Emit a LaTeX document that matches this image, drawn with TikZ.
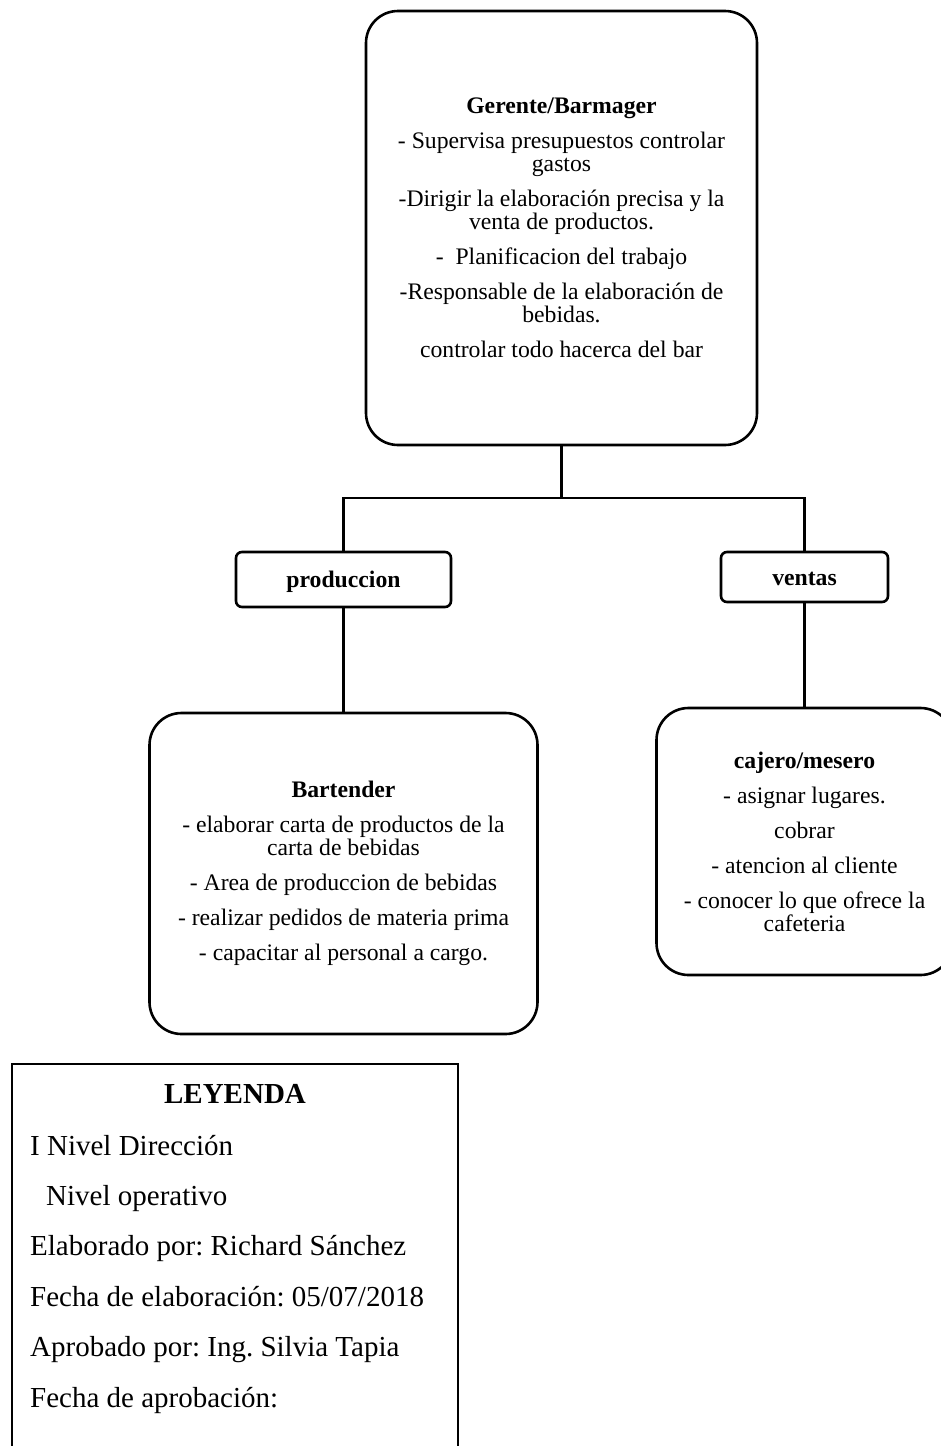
\documentclass[tikz,border=0pt]{standalone}
\usepackage{fontspec}
\setmainfont{Liberation Serif}
\frenchspacing

\begin{document}
\begin{tikzpicture}[x=1pt,y=-1pt,
    cargo/.style={draw, line width=2.6pt, rounded corners=32pt, align=center,
      inner sep=0pt, font=\fontsize{23.7}{23}\selectfont},
    area/.style={draw, line width=2.6pt, rounded corners=6pt, inner sep=0pt,
      text height=20pt, text depth=5pt, font=\fontsize{23.7}{23}\selectfont\bfseries},
    leyenda/.style={anchor=base west, inner sep=0pt, font=\fontsize{29}{29}\selectfont}]
  \clip (0,0) rectangle (941,1446);

  % boxes
  \node[cargo, minimum width=391pt, minimum height=434pt] (gerente) at (561.5,228)
    {\textbf{Gerente/Barmager}\\[12pt]
     - Supervisa presupuestos controlar\\ gastos\\[12pt]
     -Dirigir la elaboración precisa y la\\ venta de productos.\\[12pt]
     -\ \ Planificacion del trabajo\\[12pt]
     -Responsable de la elaboración de\\ bebidas.\\[12pt]
     controlar todo hacerca del bar};
  \node[area, minimum width=215pt, minimum height=55pt] (prod) at (343.5,579.5) {produccion};
  \node[area, minimum width=167pt, minimum height=50pt, text height=22pt] (ventas) at (804.5,577) {ventas};
  \node[cargo, minimum width=388pt, minimum height=321pt] (bartender) at (343.5,873.5)
    {\textbf{Bartender}\\[12pt]
     - elaborar carta de productos de la\\ carta de bebidas\\[12pt]
     - Area de produccion de bebidas\\[12pt]
     - realizar pedidos de materia prima\\[12pt]
     - capacitar al personal a cargo.};
  \node[cargo, minimum width=296pt, minimum height=267pt] (cajero) at (804.5,841.5)
    {\textbf{cajero/mesero}\\[12pt]
     - asignar lugares.\\[12pt]
     cobrar\\[12pt]
     - atencion al cliente\\[12pt]
     - conocer lo que ofrece la\\ cafeteria};

  % lines
  \coordinate (split) at (561.5,498);
  \draw[line width=2.6pt] (gerente.south) -- (split);
  \draw[line width=2.6pt] (prod.north) |- (split) -| (ventas.north);
  \draw[line width=2.6pt] (prod.south) -- (bartender.north);
  \draw[line width=2.6pt] (ventas.south) -- (cajero.north);

  % legend
  \draw[line width=2pt] (12,1470) -- (12,1064) -- (458,1064) -- (458,1470);
  \node[anchor=base, font=\fontsize{29}{29}\selectfont\bfseries] (titulo) at (235,1103) {LEYENDA};
  \node[leyenda] (nivel1) at (30,1155) {I Nivel Dirección};
  \node[leyenda] (nivel2) at (46,1205.4) {Nivel operativo};
  \node[leyenda] (elaborado) at (30,1255.8) {Elaborado por: Richard Sánchez};
  \node[leyenda] (fechaelab) at (30,1306.2) {Fecha de elaboración: 05/07/2018};
  \node[leyenda] (aprobado) at (30,1356.6) {Aprobado por: Ing. Silvia Tapia};
  \node[leyenda] (fechaaprob) at (30,1407) {Fecha de aprobación:};
\end{tikzpicture}
\end{document}
